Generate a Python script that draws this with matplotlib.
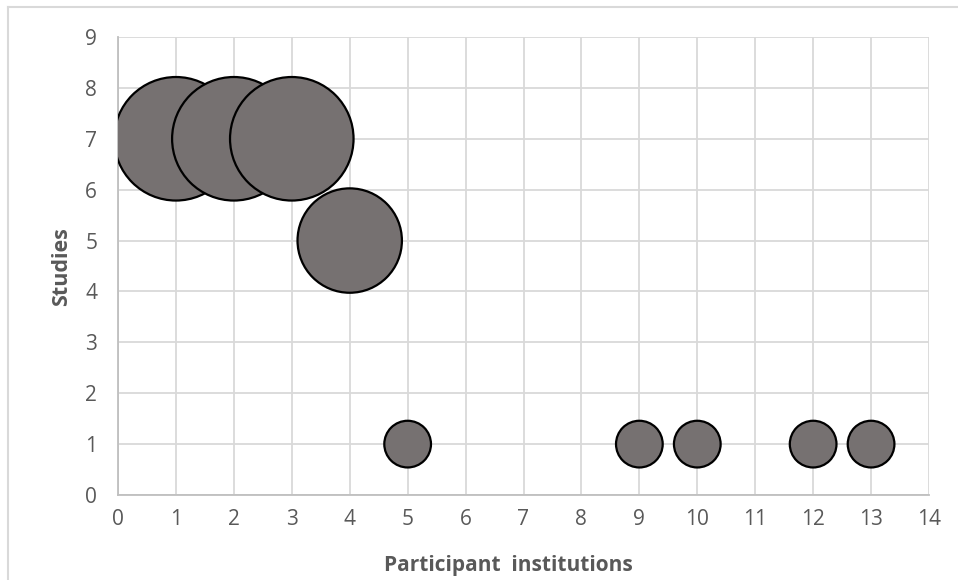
import matplotlib.pyplot as plt
from matplotlib.lines import Line2D

# participant institutions vs. number of studies (bubble size = studies)
institutions = [1, 2, 3, 4, 5, 9, 10, 12, 13]
studies = [7, 7, 7, 5, 1, 1, 1, 1, 1]
x_ticks = list(range(0, 15))
y_ticks = list(range(0, 10))

plt.rcParams['font.family'] = ['Open Sans', 'DejaVu Sans']

fig = plt.figure(figsize=(9.58, 5.80), dpi=100)
ax = fig.add_axes([118 / 958, 85 / 580, 811 / 958, 458 / 580])

size_per_study = 1130
ax.scatter(institutions, studies, s=[v * size_per_study for v in studies],
           color='#767171', edgecolor='black', linewidth=1.6, zorder=3)

ax.set_xlim(0, 14)
ax.set_ylim(0, 9)
ax.set_xticks(x_ticks)
ax.set_yticks(y_ticks)
ax.grid(True, color='#d9d9d9', linewidth=1.3, zorder=0)
ax.set_axisbelow(True)
for side in ['left', 'bottom']:
    ax.spines[side].set_color('#bfbfbf')
    ax.spines[side].set_linewidth(1.3)
for side in ['top', 'right']:
    ax.spines[side].set_visible(False)
ax.tick_params(length=0, labelsize=15, labelcolor='#595959')
ax.tick_params(axis='x', pad=10)
ax.tick_params(axis='y', pad=15)

ax.set_xlabel('Participant  institutions', fontsize=15, fontweight='bold',
              color='#595959', va='center')
ax.set_ylabel('Studies', fontsize=15.5, fontweight='bold', color='#595959',
              va='center')
ax.xaxis.set_label_coords((508 - 118) / 811, (495 - 565) / 458)
ax.yaxis.set_label_coords((62 - 118) / 811, (495 - 267) / 458)

# outer chart border (left and top are visible in the reference)
fig.add_artist(Line2D([8 / 958, 8 / 958], [0, 1 - 7 / 580], color='#d9d9d9',
                      linewidth=1.5, transform=fig.transFigure))
fig.add_artist(Line2D([8 / 958, 1], [1 - 7 / 580, 1 - 7 / 580], color='#d9d9d9',
                      linewidth=1.5, transform=fig.transFigure))

fig.savefig('out.png', dpi=100)
